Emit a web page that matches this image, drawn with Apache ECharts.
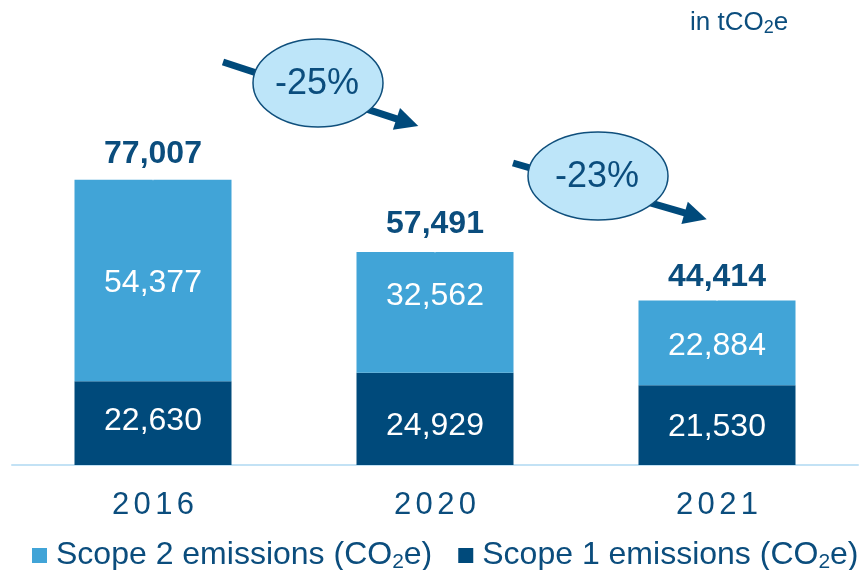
<!DOCTYPE html>
<html><head><meta charset="utf-8">
<script src="https://cdn.jsdelivr.net/npm/echarts@6/dist/echarts.min.js"></script>
<style>html,body{margin:0;padding:0;background:#fff}#c{width:862px;height:570px}</style>
</head><body><div id="c"></div>
<script>
// ---- data ----
const categories = ['2016', '2020', '2021'];
const scope1 = [22630, 24929, 21530];
const scope2 = [54377, 32562, 22884];
const totals = [77007, 57491, 44414];
const changes = ['-25%', '-23%'];
const unitLabel = 'in tCO2e';
const seriesNames = ['Scope 1 emissions (CO2e)', 'Scope 2 emissions (CO2e)'];

// ---- style / layout ----
const FONT = '"Liberation Sans", Arial, Helvetica, sans-serif';
const DARK = '#004a7b';
const LIGHT = '#41a4d7';
const TEXT = '#0b4d7d';
const fmt = v => String(v).replace(/\B(?=(\d{3})+(?!\d))/g, ',');
const sub = s => s.replace('CO2e', 'CO{sub|2}e');
const nudge1 = [-1.5, 7, 2];
const nudge2 = [3, -16, 3.5];
const nudgeT = [-0.5, -2, 2.5];

function arrow(x1, y1, x2, y2, hl, hw) {
  const a = Math.atan2(y2 - y1, x2 - x1);
  const bx = x2 - hl * Math.cos(a), by = y2 - hl * Math.sin(a);
  const px = -Math.sin(a) * hw, py = Math.cos(a) * hw;
  return [
    {type: 'line', shape: {x1: x1, y1: y1, x2: bx + Math.cos(a), y2: by + Math.sin(a)}, style: {stroke: DARK, lineWidth: 7}, z: 10},
    {type: 'polygon', shape: {points: [[x2, y2], [bx + px, by + py], [bx - px, by - py]]}, style: {fill: DARK}, z: 10}
  ];
}
function bubble(cx, cy, rx, ry, txt) {
  return [
    {type: 'ellipse', shape: {cx: cx, cy: cy, rx: rx, ry: ry}, style: {fill: '#bde5f9', stroke: '#0f4f7c', lineWidth: 1.5}, z: 20},
    {type: 'text', x: cx - 1, y: cy + 1.5, style: {text: txt, fill: TEXT, fontSize: 36, fontFamily: FONT, align: 'center', verticalAlign: 'middle'}, z: 21}
  ];
}

const chart = echarts.init(document.getElementById('c'), null, {renderer: 'canvas'});
chart.setOption({
  animation: false,
  backgroundColor: '#ffffff',
  grid: {left: 12, right: 4, top: 94.7, bottom: 105, containLabel: false, outerBoundsMode: 'none'},
  xAxis: {
    type: 'category', data: categories,
    axisLine: {lineStyle: {color: '#c3e2f5', width: 2}},
    axisTick: {show: false},
    axisLabel: {
      margin: 25,
      formatter: v => v.split('').map(c => '{d|' + c + '}').join(''),
      rich: {d: {fontSize: 31, fontFamily: FONT, color: TEXT, padding: [0, 2.2, 0, 2.2]}}
    }
  },
  yAxis: {type: 'value', min: 0, max: 100000, show: false},
  legend: {
    left: 32, top: 538.5, width: 860, padding: 0, itemWidth: 15, itemHeight: 15, itemGap: 26, icon: 'rect',
    orient: 'horizontal',
    selectedMode: false,
    data: [seriesNames[1], seriesNames[0]],
    formatter: n => sub(n),
    textStyle: {
      color: TEXT, fontSize: 32, fontFamily: FONT, lineHeight: 34, padding: [0, 0, 0, 4],
      rich: {sub: {fontSize: 21, lineHeight: 16, verticalAlign: 'bottom', color: TEXT, fontFamily: FONT}}
    }
  },
  series: [
    {
      name: seriesNames[0], type: 'bar', stack: 't', barWidth: 157,
      itemStyle: {color: DARK},
      label: {show: true, position: 'inside', color: '#fff', fontSize: 32, fontFamily: FONT, formatter: p => fmt(p.value)},
      data: scope1.map((v, i) => ({value: v, label: {offset: [0, nudge1[i]]}}))
    },
    {
      name: seriesNames[1], type: 'bar', stack: 't', barWidth: 157,
      itemStyle: {color: LIGHT},
      label: {show: true, position: 'inside', color: '#fff', fontSize: 32, fontFamily: FONT, formatter: p => fmt(p.value)},
      data: scope2.map((v, i) => ({value: v, label: {offset: [0, nudge2[i]]}}))
    },
    {
      name: 'Total', type: 'scatter', symbol: 'circle', symbolSize: 1,
      itemStyle: {color: '#ffffff', opacity: 1},
      label: {show: true, position: 'top', distance: 9, color: TEXT, opacity: 1, fontSize: 32, fontWeight: 'bold', fontFamily: FONT, formatter: p => fmt(p.value)},
      emphasis: {disabled: true},
      z: 5,
      data: totals.map((v, i) => ({value: v, label: {offset: [0, nudgeT[i]]}}))
    }
  ],
  graphic: [].concat(
    arrow(223, 62, 418.3, 126, 23, 11.5),
    arrow(513, 163, 706.7, 219.3, 23, 11.5),
    bubble(318, 83, 65, 44, changes[0]),
    bubble(598, 176, 70, 44, changes[1]),
    [{type: 'text', x: 690, y: 7.5, z: 30, style: {
      text: sub(unitLabel), fill: TEXT, fontSize: 26, fontFamily: FONT, lineHeight: 30, verticalAlign: 'top',
      rich: {sub: {fontSize: 18, lineHeight: 14, verticalAlign: 'bottom', fill: TEXT, fontFamily: FONT}}
    }}]
  )
});
</script>
</body></html>
